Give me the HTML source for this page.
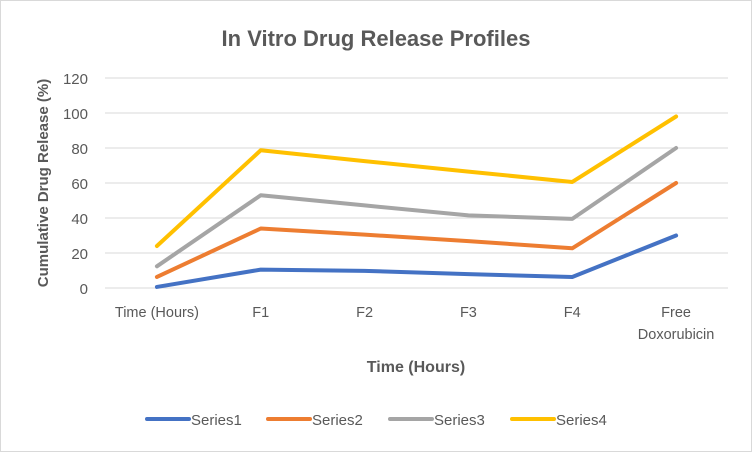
<!DOCTYPE html>
<html><head><meta charset="utf-8"><style>
body{margin:0;background:#fff}
svg{display:block;font-family:"Liberation Sans",sans-serif}
</style></head><body>
<svg id="chart" width="752" height="452">
<rect x="0.5" y="0.5" width="751" height="451" fill="#fff" stroke="#d9d9d9"/>
<text x="376" y="46" text-anchor="middle" font-size="22" font-weight="bold" fill="#595959">In Vitro Drug Release Profiles</text>
<text transform="translate(48,183) rotate(-90)" text-anchor="middle" font-size="15" font-weight="bold" fill="#595959">Cumulative Drug Release (%)</text>
<text x="416" y="372" text-anchor="middle" font-size="16" font-weight="bold" fill="#595959">Time (Hours)</text>
<g id="grid"></g><g id="xlabels"></g><g id="series"></g><g id="legend"></g>
</svg>
<script>
const categories=["Time (Hours)","F1","F2","F3","F4","Free|Doxorubicin"];
const yTicks=[0,20,40,60,80,100,120];
const seriesNames=["Series1","Series2","Series3","Series4"];
const series1=[0.6,10.5,9.8,7.9,6.3,30];
const series2=[6.3,34,30.5,26.8,22.7,60];
const series3=[12.4,53,47.2,41.5,39.5,80];
const series4=[24,78.7,72.5,66.5,60.6,98];
const colors=["#4472c4","#ed7d31","#a5a5a5","#ffc000"];
const NS="http://www.w3.org/2000/svg";
const L=105,R=728,T=78,B=288;
const x=i=>L+(R-L)*(i+0.5)/categories.length;
const y=v=>B-(B-T)*v/120;
function mk(tag,attrs,parent){const e=document.createElementNS(NS,tag);for(const k in attrs)e.setAttribute(k,attrs[k]);parent.appendChild(e);return e;}
const grid=document.getElementById('grid');
yTicks.forEach(t=>{
 const l=mk('line',{x1:L,x2:R,y1:y(t),y2:y(t),stroke:'#d9d9d9','stroke-width':1},grid);
 
 
 const tx=mk('text',{x:88,y:y(t)+6,'text-anchor':'end','font-size':15,fill:'#595959'},grid);
 tx.textContent=t;
 
 
});
const xl=document.getElementById('xlabels');
categories.forEach((c,i)=>{
 c.split('|').forEach((p,j)=>{
  const tx=mk('text',{x:x(i),y:317+j*22,'text-anchor':'middle','font-size':14.5,fill:'#595959'},xl);
  tx.textContent=p;
  
  
 });
});
const sg=document.getElementById('series');
[series1,series2,series3,series4].forEach((s,k)=>{
 const pts=s.map((v,i)=>x(i)+','+y(v)).join(' ');
 const pl=mk('polyline',{points:pts,fill:'none',stroke:colors[k],'stroke-width':4,'stroke-linejoin':'round','stroke-linecap':'round'},sg);
 
 
});
const lg=document.getElementById('legend');
const lx=[147,268,390,512];
seriesNames.forEach((n,k)=>{
 const l=mk('line',{x1:lx[k],x2:lx[k]+42,y1:419,y2:419,stroke:colors[k],'stroke-width':4,'stroke-linecap':'round'},lg);
 
 
 const t=mk('text',{x:lx[k]+44,y:425,'font-size':15,fill:'#595959'},lg);
 t.textContent=n;
 
 
});
</script>
</body></html>
